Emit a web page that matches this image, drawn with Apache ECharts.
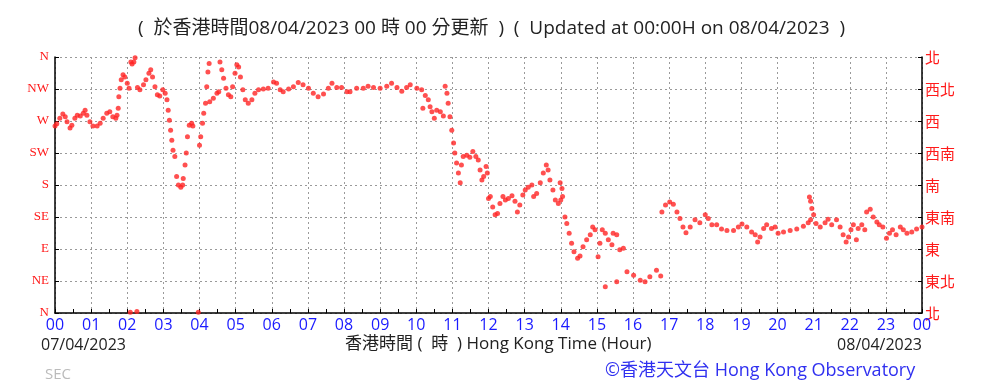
<!DOCTYPE html>
<html><head><meta charset="utf-8">
<script src="https://cdn.jsdelivr.net/npm/echarts@6/dist/echarts.min.js"></script>
<style>html,body{margin:0;padding:0;background:#fff}#c{width:983px;height:388px}</style>
</head><body><div id="c"></div>
<script>
// minutes after 00:00 on 07/04/2023
var minutes = [0,3,8,13,17,20,25,28,33,37,42,47,50,53,58,63,70,75,80,86,91,96,101,103,105,106,108,110,113,116,120,123,125,126,128,131,133,136,137,141,147,151,156,159,162,166,170,174,179,183,186,188,190,192,194,196,199,202,205,209,212,213,216,218,220,223,227,229,238,240,242,245,247,250,252,254,256,257,263,269,272,274,277,280,284,288,292,295,299,302,305,308,312,316,321,327,332,338,346,354,363,368,374,379,388,396,404,412,421,429,437,446,454,460,468,476,485,490,501,512,520,529,540,551,559,568,576,584,590,601,609,615,620,623,626,630,611,634,640,645,648,651,653,656,659,662,664,667,670,673,675,678,684,689,694,699,703,706,709,712,716,718,720,723,727,731,735,739,744,748,753,759,764,768,772,777,781,786,792,795,800,806,811,816,819,822,827,831,836,839,842,843,840,847,850,854,858,862,868,872,877,883,889,893,897,902,905,909,914,919,925,927,933,938,944,914,933,950,961,972,980,988,999,1006,1008,1014,1021,1027,1033,1038,1043,1048,1055,1063,1071,1080,1085,1091,1099,1107,1116,1127,1135,1141,1149,1157,1163,1167,1171,1177,1182,1190,1196,1201,1210,1221,1232,1243,1251,1255,1253,1255,1257,1260,1264,1271,1279,1284,1290,1298,1304,1309,1314,1318,1322,1326,1331,1334,1340,1345,1348,1354,1359,1365,1369,1375,1381,1386,1391,1397,1404,1409,1415,1423,1431,1440];
// wind direction, degrees (0 = N)
var directions = [263,266,274,280,276,269,260,264,274,278,277,281,285,278,269,263,263,267,274,281,283,276,274,278,288,304,316,328,335,332,323,316,1,353,350,353,359,2,317,314,321,328,337,342,332,318,307,305,314,309,300,285,271,257,243,229,220,192,180,177,180,189,208,225,248,264,267,263,1,236,248,267,281,295,318,339,351,297,302,309,311,353,342,330,316,307,304,318,337,349,346,332,314,300,295,300,309,314,315,316,325,323,314,311,315,318,324,321,316,309,304,308,316,323,317,317,311,311,316,316,319,317,316,319,323,317,312,317,321,316,314,306,300,290,283,274,288,285,283,277,319,309,295,276,257,239,225,211,197,183,208,220,222,219,227,220,215,201,187,192,206,197,161,164,149,138,140,154,164,159,161,165,157,142,152,166,173,177,180,164,168,183,197,208,201,187,173,159,154,183,175,164,159,135,126,112,98,86,77,80,93,103,110,121,117,79,98,117,112,103,96,112,110,89,91,37,44,58,53,46,44,51,60,52,142,152,156,153,142,133,121,113,121,131,127,138,133,124,124,118,116,116,121,125,121,114,110,100,107,119,124,119,121,112,114,116,118,122,127,131,163,157,147,138,126,121,127,132,124,131,121,110,100,107,117,124,103,119,124,117,142,146,135,128,124,121,105,112,117,110,121,117,112,114,118,121];
var hourLabels = ['00','01','02','03','04','05','06','07','08','09','10','11','12','13','14','15','16','17','18','19','20','21','22','23','00'];
var dirLabelsEn = ['N','NE','E','SE','S','SW','W','NW','N'];
var dirLabelsZh = ['北','東北','東','東南','南','西南','西','西北','北'];

var pts = minutes.map(function(m,i){return [m/60, directions[i]];});
var chart = echarts.init(document.getElementById('c'), null, {renderer:'canvas'});
var dashed = {show:true, lineStyle:{color:'#9a9a9a', type:[2,3], width:1}};
chart.setOption({
  animation:false,
  backgroundColor:'#fff',
  grid:{left:55, right:61, top:57, bottom:75},
  xAxis:{type:'value', min:0, max:24, interval:1,
    axisLine:{lineStyle:{color:'#000', width:1.5}},
    axisTick:{inside:true, length:4, lineStyle:{color:'#000'}},
    minorTick:{show:true, splitNumber:2, length:4, lineStyle:{color:'#000'}},
    splitLine:dashed,
    axisLabel:{color:'#1a1aff', fontSize:16, fontFamily:'Open Sans', margin:4,
      formatter:function(v){return hourLabels[Math.round(v)];}}
  },
  yAxis:[
    {type:'value', min:0, max:360, interval:45, position:'left',
     axisLine:{show:true, lineStyle:{color:'#000', width:1.5}},
     axisTick:{show:true, inside:true, length:4, lineStyle:{color:'#000'}},
     splitLine:dashed,
     axisLabel:{color:'#ff1a1a', fontSize:13, fontFamily:'Liberation Serif', margin:6,
       formatter:function(v){return dirLabelsEn[Math.round(v/45)];}}},
    {type:'value', min:0, max:360, interval:45, position:'right',
     axisLine:{show:true, lineStyle:{color:'#000', width:1.5}},
     axisTick:{show:true, inside:true, length:4, lineStyle:{color:'#000'}},
     splitLine:{show:false},
     axisLabel:{color:'#ff1a1a', fontSize:15, fontFamily:'Noto Sans CJK TC', margin:3,
       formatter:function(v){return dirLabelsZh[Math.round(v/45)];}}}
  ],
  series:[{type:'scatter', data:pts, symbol:'circle', symbolSize:5,
    itemStyle:{color:'#ff2424'}, silent:true}],
  graphic:[
    {type:'text', left:'center', top:19, style:{text:'(  於香港時間08/04/2023 00 時 00 分更新  )  (  Updated at 00:00H on 08/04/2023  )', fill:'#222', font:'19px "Open Sans", "Noto Sans CJK TC"'}},
    {type:'text', left:41, top:337, style:{text:'07/04/2023', fill:'#222', font:'16px "Open Sans"'}},
    {type:'text', left:345, top:336, style:{text:'香港時間 (  時  ) Hong Kong Time (Hour)', fill:'#222', font:'17px "Open Sans", "Noto Sans CJK TC"'}},
    {type:'text', right:61, top:337, style:{text:'08/04/2023', fill:'#222', font:'16px "Open Sans"'}},
    {type:'text', left:45, top:367, style:{text:'SEC', fill:'#bbb', font:'15px "Open Sans"'}},
    {type:'text', left:605, top:362, style:{text:'©香港天文台 Hong Kong Observatory', fill:'#3030f0', font:'18px "Open Sans", "Noto Sans CJK TC"'}}
  ]
});
</script></body></html>
